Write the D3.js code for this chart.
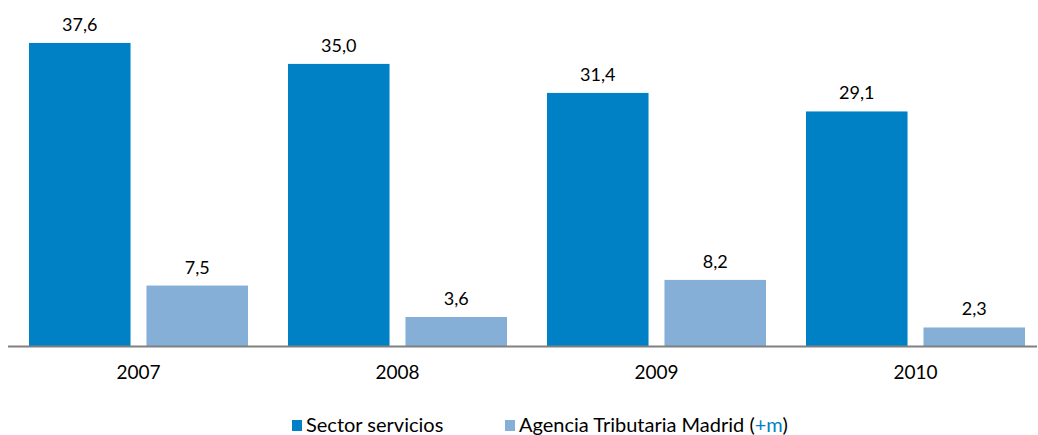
<!DOCTYPE html>
<html>
<head>
<meta charset="utf-8">
<title></title>
<style>
  body { margin: 0; background: #fff; }
  svg { display: block; }
</style>
</head>
<body>
<svg></svg>
<script src="https://d3js.org/d3.v7.min.js"></script>
<script type="text/javascript">
const years = ["2007", "2008", "2009", "2010"];
const series = ["Sector servicios", "Agencia Tributaria Madrid"];
const sectorServicios = [37.6, 35.0, 31.4, 29.1];
const agenciaTributaria = [7.5, 3.6, 8.2, 2.3];

const width = 1038, height = 435;
const colors = ["#0080c5", "#85afd6"];
const baseY = 346;

const svg = d3.select("svg")
    .attr("width", width)
    .attr("height", height)
    .style("font-family", "Lato, 'Open Sans', sans-serif");

const x0 = d3.scaleBand()
    .domain(years)
    .range([9, 1045])
    .paddingInner(40 / 259)
    .paddingOuter(40 / 518);

const x1 = d3.scaleBand()
    .domain(series)
    .range([0, x0.bandwidth()])
    .paddingInner(16 / 118);

const y = d3.scaleLinear()
    .domain([0, 40])
    .range([baseY, baseY - 40 * 8.06]);

const fmt = d3.formatLocale({decimal: ",", thousands: ".", grouping: [3], currency: ["", "€"]}).format(".1f");

const rows = years.map((yr, i) => ({year: yr, values: [sectorServicios[i], agenciaTributaria[i]]}));

const groups = svg.append("g")
    .selectAll("g")
    .data(rows)
    .join("g")
    .attr("transform", d => `translate(${x0(d.year)},0)`);

groups.selectAll("rect")
    .data(d => d.values.map((v, j) => ({key: series[j], v, j})))
    .join("rect")
    .attr("x", d => x1(d.key))
    .attr("y", d => y(d.v))
    .attr("width", x1.bandwidth())
    .attr("height", d => y(0) - y(d.v))
    .attr("fill", d => colors[d.j]);

groups.selectAll("text.val")
    .data(d => d.values.map((v, j) => ({key: series[j], v, j})))
    .join("text")
    .attr("class", "val")
    .attr("x", d => x1(d.key) + x1.bandwidth() / 2)
    .attr("y", d => y(d.v) - 12)
    .attr("text-anchor", "middle")
    .attr("font-size", 18)
    .attr("fill", "#000")
    .text(d => fmt(d.v));

// axis
svg.append("line")
    .attr("x1", 8).attr("x2", 1037)
    .attr("y1", baseY + 0.5).attr("y2", baseY + 0.5)
    .attr("stroke", "#808080")
    .attr("stroke-width", 2);

svg.append("g")
    .selectAll("text")
    .data(years)
    .join("text")
    .attr("x", d => x0(d) + x0.bandwidth() / 2)
    .attr("y", 379)
    .attr("text-anchor", "middle")
    .attr("font-size", 19)
    .text(d => d);

// legend
const legendX = [292, 505];
const legend = svg.append("g")
    .selectAll("g")
    .data(series)
    .join("g")
    .attr("transform", (d, i) => `translate(${legendX[i]},420)`);

legend.append("rect")
    .attr("width", 10)
    .attr("height", 11)
    .attr("fill", (d, i) => colors[i]);

const lt = legend.append("text")
    .attr("x", 14)
    .attr("y", 12)
    .attr("font-size", 20);
lt.append("tspan").text(d => d);
lt.filter((d, i) => i === 1).each(function () {
    const t = d3.select(this);
    t.append("tspan").text(" (");
    t.append("tspan").attr("fill", "#0080c5").text("+m");
    t.append("tspan").text(")");
});
</script>
</body>
</html>
